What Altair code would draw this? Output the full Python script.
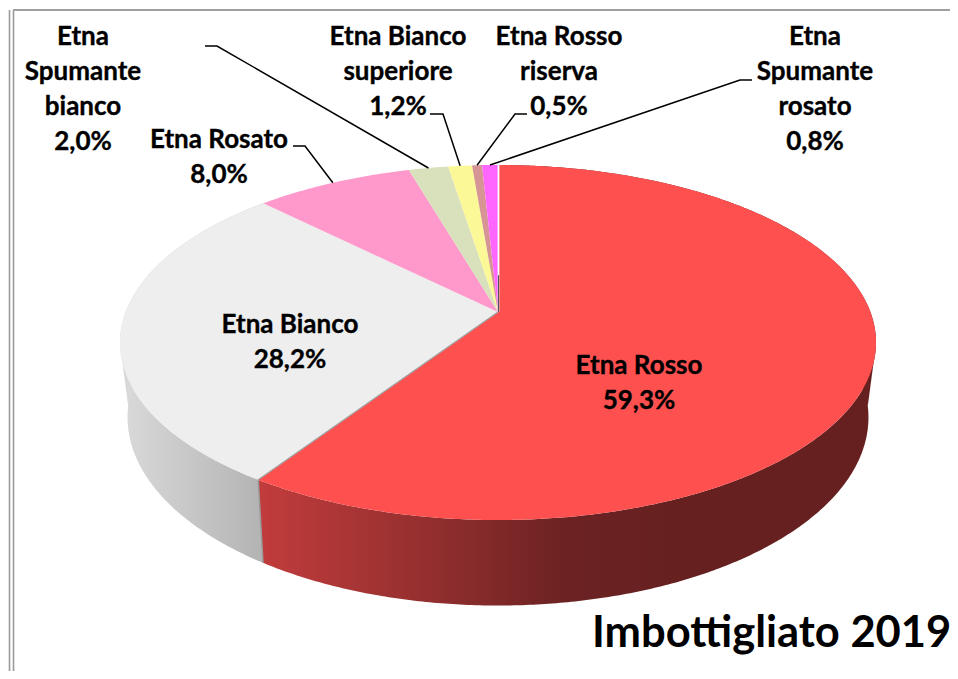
import math
import altair as alt
import pandas as pd

# ---- values
names = ["Etna Rosso", "Etna Bianco", "Etna Rosato", "Etna Spumante bianco",
         "Etna Bianco superiore", "Etna Rosso riserva", "Etna Spumante rosato"]
shares = [59.3, 28.2, 8.0, 2.0, 1.2, 0.5, 0.8]
colors = ["#FF5050", "#EEEEEE", "#FF99CC", "#D8E0BC", "#FBF898", "#D69494", "#FF66FF"]

label_lines = [
    ["Etna Rosso", "59,3%"],
    ["Etna Bianco", "28,2%"],
    ["Etna Rosato", "8,0%"],
    ["Etna", "Spumante", "bianco", "2,0%"],
    ["Etna Bianco", "superiore", "1,2%"],
    ["Etna Rosso", "riserva", "0,5%"],
    ["Etna", "Spumante", "rosato", "0,8%"],
]
label_x = [639, 290, 219, 83, 398, 559, 815]
label_y = [366, 325, 140, 37, 37, 37, 37]
LINE = 35
leader_start = [None, None, [(293, 146), (305, 146)], [(205, 46), (217, 46)],
                [(430, 114), (443, 114)], [(527, 114), (515, 114)], [(752, 80), (740, 80)]]

title_text = "Imbottigliato 2019"

# ---- perspective of the disc
CX, CY, K, B, P = 498.0, 312.0, 372.4, 172.3, 0.1718
BASE_Y0, BASE_SY, BASE_SX = 385.0, 1.06, 0.98


def top(theta):
    u, v = math.sin(theta), -math.cos(theta)
    d = 1 - P * v
    return CX + K * u / d, CY + B * v / d


def bottom(theta):
    u, v = math.sin(theta), -math.cos(theta)
    d = 1 - P * v
    return CX + BASE_SX * K * u / d, BASE_Y0 + BASE_SY * B * v / d


def arc_range(a, b, step=math.radians(0.5)):
    n = max(2, int(abs(b - a) / step))
    return [a + (b - a) * i / n for i in range(n + 1)]


edges = [0.0]
for s in shares:
    edges.append(edges[-1] + s / 100 * 2 * math.pi)

X = alt.X("x:Q", scale=alt.Scale(domain=[8, 950], nice=False, zero=False), axis=None)
Y = alt.Y("y:Q", scale=alt.Scale(domain=[8, 671], nice=False, zero=False, reverse=True), axis=None)


def polygon(points, fill):
    df = pd.DataFrame([{"x": x, "y": y, "i": i} for i, (x, y) in enumerate(points)])
    return alt.Chart(df).mark_line(fill=fill, strokeWidth=0, opacity=1, interpolate="linear", clip=True).encode(
        x=X, y=Y, order="i:O")


def line(points, color, width):
    df = pd.DataFrame([{"x": x, "y": y, "i": i} for i, (x, y) in enumerate(points)])
    return alt.Chart(df).mark_line(color=color, strokeWidth=width).encode(x=X, y=Y, order="i:O")


def grad(stops):
    return alt.LinearGradient(gradient="linear", x1=0, x2=1, y1=0, y2=0,
                              stops=[alt.GradientStop(color=c, offset=o) for o, c in stops])


layers = []

# frame
layers.append(line([(9.5, 10), (9.5, 671)], "#9a9a9a", 1.6))
layers.append(line([(13.5, 10), (13.5, 671)], "#9a9a9a", 1.6))
layers.append(line([(13, 10), (950, 10)], "#a0a0a0", 2))

# side walls
red_a = arc_range(edges[0], edges[1])
layers.append(polygon([top(t) for t in red_a] + [bottom(t) for t in reversed(red_a)],
                      grad([(0, "#C23C3C"), (0.25, "#983030"), (0.5, "#6C2222"), (0.7, "#662020"), (1, "#662020")])))
grey_a = arc_range(edges[1], edges[2])
layers.append(polygon([top(t) for t in grey_a] + [bottom(t) for t in reversed(grey_a)],
                      grad([(0, "#DADADA"), (1, "#B2B2B2")])))

# wall silhouette, where the disc's rim runs straight down to the base
r = math.radians
layers.append(polygon([top(r(106.4)), bottom(r(96.5)), bottom(r(85))], "#662020"))
layers.append(polygon([top(r(253.6)), bottom(r(263.5)), bottom(r(275))], "#D8D8D8"))

# top slices
for i, col in enumerate(colors):
    pts = [(CX, CY)] + [top(t) for t in arc_range(edges[i], edges[i + 1])]
    layers.append(polygon(pts, col))

# slice seams
layers.append(line([top(edges[1]), bottom(edges[1])], "#9a9a9a", 1.5))
layers.append(line([(CX, CY), top(edges[1])], "#a0a0a0", 1.2))
layers.append(line([(CX + 0.5, CY), (top(0.0)[0] + 0.5, top(0.0)[1])], "#FFFFFF", 1.8))
rim_x, rim_y = top(0.0)
layers.append(line([(CX + 0.5, CY), (CX + 0.5, CY + (rim_y - CY) * 0.25)], "#555555", 1.2))

# leader lines
for i, start in enumerate(leader_start):
    if start:
        end = top((edges[i] + edges[i + 1]) / 2)
        layers.append(line(list(start) + [end], "#000000", 1.5))

# labels
rows = []
for i, lines in enumerate(label_lines):
    for j, txt in enumerate(lines):
        rows.append({"x": label_x[i], "y": label_y[i] + j * LINE, "t": txt, "n": f"{i}-{j}"})
layers.append(alt.Chart(pd.DataFrame(rows)).mark_text(
    font="Lato", fontWeight="bold", fontSize=26, color="#000000", baseline="middle", align="center",
    stroke="#000000", strokeWidth=0.35
).encode(x=X, y=Y, text="t:N", detail="n:N"))

layers.append(alt.Chart(pd.DataFrame([{"x": 592, "y": 647, "t": title_text}])).mark_text(
    font="Lato", fontWeight="bold", fontSize=43.5, color="#000000", baseline="alphabetic", align="left"
).encode(x=X, y=Y, text="t:N"))

chart = alt.layer(*layers).properties(
    width=942, height=663, padding=0, autosize=alt.AutoSizeParams(type="none")
).configure_view(stroke=None)

chart.save("out.html", embed_options={"renderer": "svg", "actions": False})
